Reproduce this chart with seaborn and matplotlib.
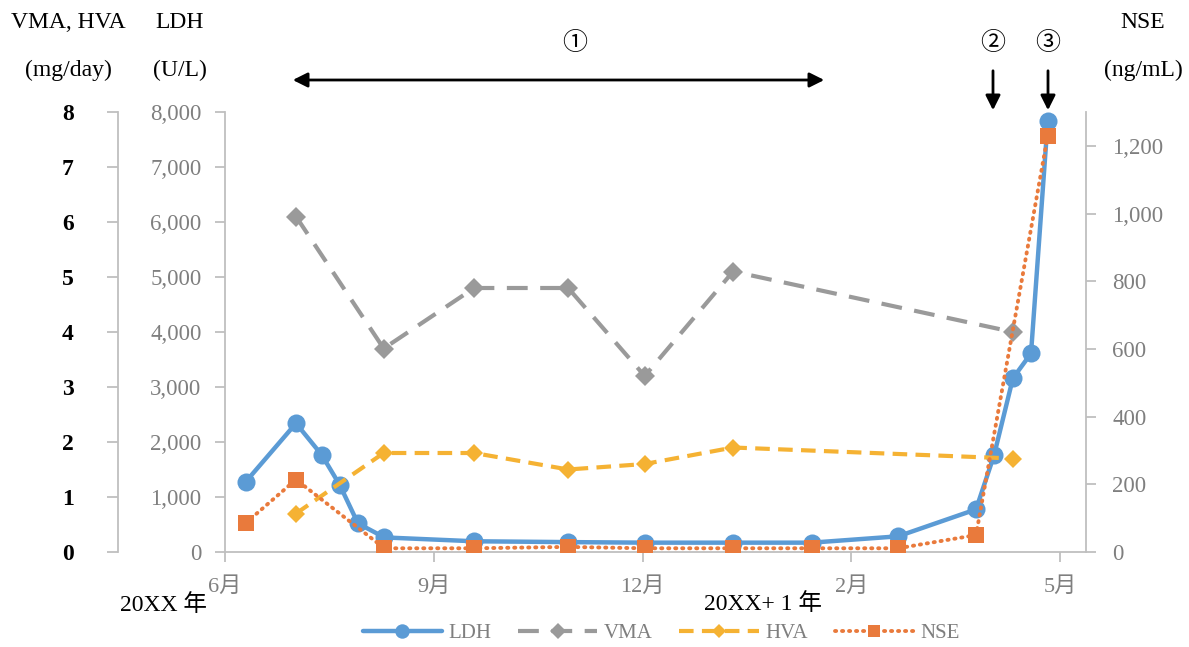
import matplotlib
matplotlib.use("Agg")
import matplotlib.pyplot as plt
from matplotlib.ticker import FuncFormatter
import seaborn as sns
import pandas as pd

# ---- data (x = months elapsed since 1 June 20XX) ----
ldh_x = [0.30, 1.02, 1.39, 1.65, 1.91, 2.29, 3.58, 4.93, 6.03, 7.30, 8.43, 9.67, 10.79, 11.05, 11.32, 11.58, 11.82]
ldh = [1280, 2340, 1765, 1215, 520, 265, 195, 180, 170, 170, 170, 285, 775, 1765, 3160, 3610, 7840]

vma_x = [1.02, 2.28, 3.58, 4.93, 6.03, 7.30, 11.32]
vma = [6.1, 3.7, 4.8, 4.8, 3.2, 5.1, 4.0]

hva_x = [1.02, 2.28, 3.58, 4.93, 6.03, 7.30, 11.32]
hva = [0.7, 1.8, 1.8, 1.5, 1.6, 1.9, 1.7]

nse_x = [0.30, 1.02, 2.29, 3.58, 4.93, 6.03, 7.30, 8.43, 9.67, 10.79, 11.82]
nse = [86, 214, 11, 11, 15, 11, 11, 11, 11, 50, 1230]

x_tick_pos = [0, 3, 6, 9, 12]
x_tick_labels = ["6月", "9月", "12月", "2月", "5月"]

# ---- style ----
sns.set_theme(style="white")
plt.rcParams["font.family"] = ["Liberation Serif", "Noto Sans CJK JP", "DejaVu Sans"]

W, H = 1189, 647
fig = plt.figure(figsize=(W / 100, H / 100), dpi=100)
ax = fig.add_axes([225 / W, 1 - 552 / H, (1086 - 225) / W, 440 / H])
axv = ax.twinx()
axn = ax.twinx()

C_LDH = "#5B9BD5"
C_VMA = "#9A9A9A"
C_HVA = "#F5B233"
C_NSE = "#E97A3C"
SPINE = "#BFBFBF"
TXT = "#7F7F7F"

df_ldh = pd.DataFrame({"x": ldh_x, "y": ldh})
df_vma = pd.DataFrame({"x": vma_x, "y": vma})
df_hva = pd.DataFrame({"x": hva_x, "y": hva})
df_nse = pd.DataFrame({"x": nse_x, "y": nse})

sns.lineplot(data=df_ldh, x="x", y="y", ax=ax, color=C_LDH, marker="o",
             markersize=13, markeredgewidth=0, linewidth=3.2, label="LDH")
sns.lineplot(data=df_vma, x="x", y="y", ax=axv, color=C_VMA, marker="D",
             markersize=10, markeredgewidth=0, linewidth=3, linestyle=(0, (5, 3)), label="VMA")
sns.lineplot(data=df_hva, x="x", y="y", ax=axv, color=C_HVA, marker="D",
             markersize=9, markeredgewidth=0, linewidth=3, linestyle=(0, (3.5, 2)), label="HVA")
sns.lineplot(data=df_nse, x="x", y="y", ax=axn, color=C_NSE, marker="s",
             markersize=11, markeredgewidth=0, linewidth=2.8, linestyle=(0, (0.3, 1.5)),
             dash_capstyle="round", label="NSE")

for a in (ax, axv, axn):
    leg = a.get_legend()
    if leg is not None:
        leg.remove()
    a.set_xlabel("")
    a.set_ylabel("")
    a.grid(False)
    a.patch.set_visible(False)
    for s in a.spines.values():
        s.set_visible(False)
        s.set_color(SPINE)
        s.set_linewidth(1.3)

# x axis
ax.set_xlim(0, 12.37)
ax.set_xticks(x_tick_pos)
ax.set_xticklabels(x_tick_labels)
ax.spines["bottom"].set_visible(True)
ax.tick_params(axis="x", bottom=True, direction="out", length=7, width=1.3,
               color=SPINE, labelcolor=TXT, labelsize=16, pad=11)

# LDH axis (inner left)
comma = FuncFormatter(lambda v, p: f"{int(v):,}")
ax.set_ylim(0, 8000)
ax.set_yticks(range(0, 8001, 1000))
ax.yaxis.set_major_formatter(comma)
ax.spines["left"].set_visible(True)
ax.tick_params(axis="y", left=True, direction="out", length=7, width=1.3,
               color=SPINE, labelcolor=TXT, labelsize=16.5, pad=10)

# VMA/HVA axis (outer left)
axv.set_ylim(0, 8)
axv.set_yticks(range(0, 9))
axv.yaxis.set_ticks_position("left")
axv.yaxis.set_label_position("left")
axv.spines["left"].set_position(("axes", -0.1243))
axv.spines["left"].set_visible(True)
axv.tick_params(axis="y", left=True, right=False, labelleft=True, labelright=False,
                direction="out", length=8, width=1.3, color=SPINE,
                labelcolor="black", labelsize=17, pad=24)
for t in axv.get_yticklabels():
    t.set_fontweight("bold")

# NSE axis (right)
axn.set_ylim(0, 1300)
axn.set_yticks(range(0, 1201, 200))
axn.yaxis.set_major_formatter(comma)
axn.spines["right"].set_visible(True)
axn.tick_params(axis="y", right=True, direction="out", length=7, width=1.3,
                color=SPINE, labelcolor=TXT, labelsize=16.5, pad=12)

def ftext(px, py, s, **kw):
    fig.text(px / W, 1 - py / H, s, ha="center", va="center", **kw)

# axis titles
ftext(68, 22, "VMA, HVA", fontsize=17, color="black")
ftext(68, 70, "(mg/day)", fontsize=17, color="black")
ftext(180, 22, "LDH", fontsize=17, color="black")
ftext(180, 70, "(U/L)", fontsize=17, color="black")
ftext(1143, 22, "NSE", fontsize=17, color="black")
ftext(1143, 70, "(ng/mL)", fontsize=17, color="black")

# year labels
ftext(163, 605, "20XX 年", fontsize=17, color="black")
ftext(763, 604, "20XX+ 1 年", fontsize=17, color="black")

# annotations
ftext(575, 44, "①", fontsize=18, color="black")
ftext(993, 44, "②", fontsize=18, color="black")
ftext(1048, 44, "③", fontsize=18, color="black")
fig.add_artist(matplotlib.patches.FancyArrowPatch(
    (290 / W, 1 - 80 / H), (827 / W, 1 - 80 / H), transform=fig.transFigure,
    arrowstyle="<|-|>", mutation_scale=22, color="black", lw=2))
for px in (993, 1048):
    fig.add_artist(matplotlib.patches.FancyArrowPatch(
        (px / W, 1 - 68 / H), (px / W, 1 - 113 / H), transform=fig.transFigure,
        arrowstyle="-|>", mutation_scale=22, color="black", lw=2))

# legend
handles, labels = [], []
for a in (ax, axv, axn):
    h, l = a.get_legend_handles_labels()
    handles += h
    labels += l
leg = fig.legend(handles, labels, loc="center", bbox_to_anchor=(661 / W, 1 - 633 / H),
                 ncol=4, frameon=False, fontsize=15, handlelength=3.8, markerscale=0.8,
                 columnspacing=1.3, handletextpad=0.3, labelcolor=TXT)

fig.savefig("out.png", dpi=100)
